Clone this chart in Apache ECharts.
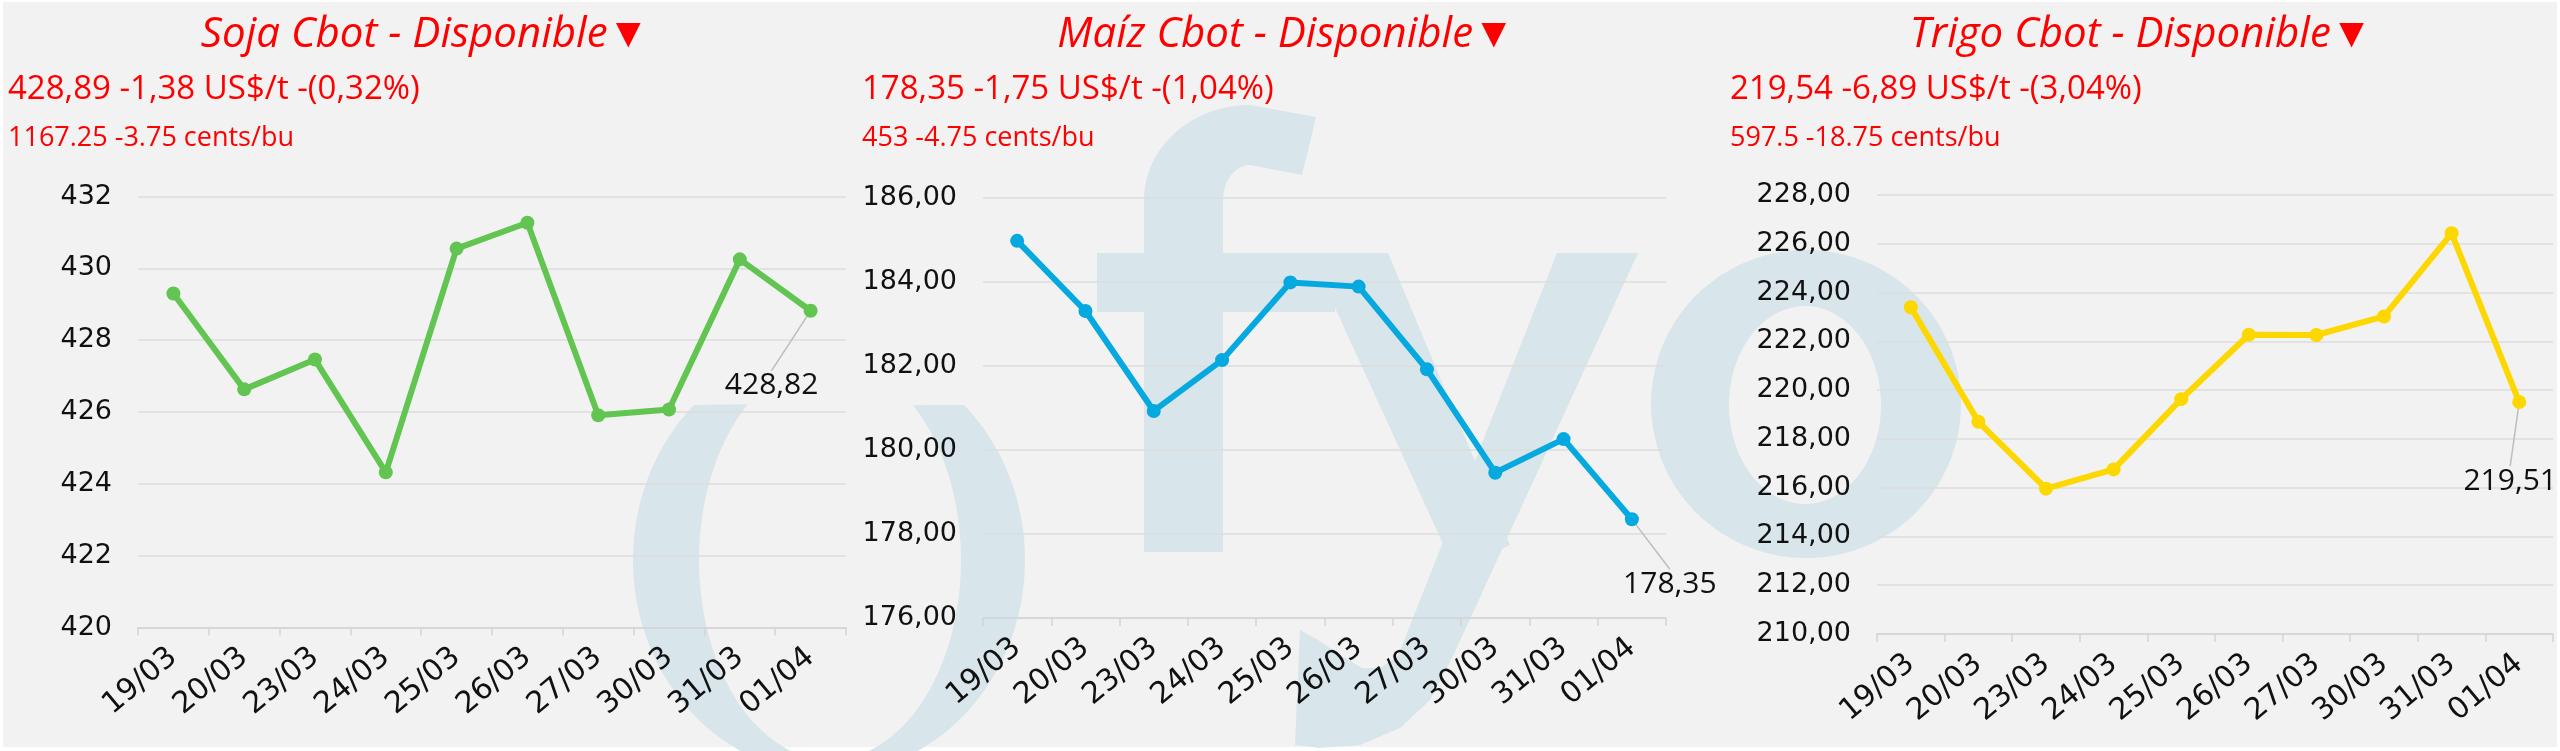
<!DOCTYPE html>
<html>
<head>
<meta charset="utf-8">
<script src="https://cdn.jsdelivr.net/npm/echarts@6/dist/echarts.min.js"></script>
<style>
html,body{margin:0;padding:0;background:#ffffff;}
#c{width:2560px;height:751px;}
</style>
</head>
<body>
<div id="c"></div>
<script>
// ---- data ----
const categories = ['19/03','20/03','23/03','24/03','25/03','26/03','27/03','30/03','31/03','01/04'];
const sojaValues  = [429.30, 426.63, 427.46, 424.32, 430.55, 431.27, 425.91, 426.07, 430.25, 428.82];
const maizValues  = [184.98, 183.31, 180.93, 182.14, 183.99, 183.89, 181.92, 179.46, 180.26, 178.35];
const trigoValues = [223.40, 218.70, 215.96, 216.75, 219.63, 222.27, 222.26, 223.02, 226.43, 219.51];

const titles     = ['Soja Cbot - Disponible\u25BC', 'Ma\u00EDz Cbot - Disponible\u25BC', 'Trigo Cbot - Disponible\u25BC'];
const priceLines = ['428,89 -1,38 US$/t -(0,32%)', '178,35 -1,75 US$/t -(1,04%)', '219,54 -6,89 US$/t -(3,04%)'];
const centsLines = ['1167.25 -3.75 cents/bu', '453 -4.75 cents/bu', '597.5 -18.75 cents/bu'];

const yMins = [420, 176, 210];
const yMaxs = [432, 186, 228];
const yStep = 2;
const yDecimals = [0, 2, 2];

// ---- styles / layout ----
const seriesValues = [sojaValues, maizValues, trigoValues];
const colors = ['#62c451', '#05a9e0', '#fdd700'];
const grids = [
  {left: 138, top: 196.5, width: 708, height: 431},
  {left: 983, top: 198, width: 683, height: 420},
  {left: 1877, top: 195, width: 676, height: 439}
];
const titleX = [425, 1286, 2141];
const textLeft = [8, 862, 1730];
const labelShift = [[-39, 75], [38, 65], [-9, 79]];
const wm = '#d8e5ea';

function fmt(v, d) { return v.toFixed(d).replace('.', ','); }

function arcPts(cx, cy, rx, ry, a0, a1, n) {
  const pts = [];
  for (let i = 0; i <= n; i++) {
    const a = (a0 + (a1 - a0) * i / n) * Math.PI / 180;
    pts.push([cx + rx * Math.cos(a), cy + ry * Math.sin(a)]);
  }
  return pts;
}

// watermark shapes (decorative)
const uRing = arcPts(829, 560, 196, 214, 226.4, -46.4, 80).concat(arcPts(830, 560, 131, 200, -50.7, 231.1, 80));
const oRing = arcPts(1806, 404, 155, 154, 0, 360, 90).concat(arcPts(1805, 405, 76, 99, 360, 0, 90));
const fShape = [[1144, 552]].concat(arcPts(1250, 200, 106, 95, 180, 270, 30))
  .concat([[1316, 117], [1302, 175]])
  .concat(arcPts(1250, 200, 27, 35, 270, 180, 20))
  .concat([[1223, 552]]);
const yLeft = [[1310, 253], [1388, 253], [1510, 545], [1455, 570]];
const yRight = [[1557, 253], [1638, 253], [1453, 656], [1430, 700], [1400, 728], [1360, 745], [1320, 748], [1295, 745],
  [1300, 630], [1318, 640], [1340, 655], [1362, 668], [1380, 668], [1398, 656]];

const graphic = [
  {type: 'rect', shape: {x: 3, y: 2, width: 2554, height: 745}, style: {fill: '#f2f2f2'}, z: -30, silent: true},
  {type: 'polygon', shape: {points: uRing}, style: {fill: wm}, z: -20, silent: true},
  {type: 'polygon', shape: {points: oRing}, style: {fill: wm}, z: -20, silent: true},
  {type: 'polygon', shape: {points: fShape}, style: {fill: wm}, z: -20, silent: true},
  {type: 'rect', shape: {x: 1097, y: 253, width: 238, height: 59}, style: {fill: wm}, z: -20, silent: true},
  {type: 'polygon', shape: {points: yLeft}, style: {fill: wm}, z: -20, silent: true},
  {type: 'polygon', shape: {points: yRight}, style: {fill: wm}, z: -20, silent: true}
];
for (let i = 0; i < 3; i++) {
  graphic.push({type: 'text', x: titleX[i], y: 34.7, z: 10, silent: true,
    style: {text: titles[i], fontFamily: 'Open Sans', fontSize: 42, fontStyle: 'italic', fill: '#ff0000', align: 'center', verticalAlign: 'middle'}});
  graphic.push({type: 'text', x: textLeft[i], y: 89.9, z: 10, silent: true,
    style: {text: priceLines[i], fontFamily: 'Open Sans', fontSize: 33, fill: '#ff0000', align: 'left', verticalAlign: 'middle'}});
  graphic.push({type: 'text', x: textLeft[i], y: 138.5, z: 10, silent: true,
    style: {text: centsLines[i], fontFamily: 'Open Sans', fontSize: 27, fill: '#ff0000', align: 'left', verticalAlign: 'middle'}});
}

const xAxis = [], yAxis = [], series = [];
for (let i = 0; i < 3; i++) {
  xAxis.push({
    type: 'category', gridIndex: i, data: categories, boundaryGap: true,
    axisLine: {show: true, lineStyle: {color: '#d4d4d4', width: 1.5}},
    axisTick: {show: true, length: 8, alignWithLabel: false, lineStyle: {color: '#d4d4d4', width: 1.5}},
    axisLabel: {interval: 0, rotate: 40, margin: 26, fontFamily: 'DejaVu Sans', fontSize: 30, color: '#111111'},
    splitLine: {show: false}
  });
  const d = yDecimals[i];
  yAxis.push({
    type: 'value', gridIndex: i, min: yMins[i], max: yMaxs[i], interval: yStep,
    axisLine: {show: false}, axisTick: {show: false},
    splitLine: {show: true, lineStyle: {color: '#dcdcdc', width: 1.5}},
    axisLabel: {margin: 26, fontFamily: 'DejaVu Sans', fontSize: 27, color: '#111111', formatter: v => fmt(v, d)}
  });
  const vals = seriesValues[i];
  const last = vals.length - 1;
  const shift = labelShift[i];
  series.push({
    type: 'line', xAxisIndex: i, yAxisIndex: i,
    data: vals.map((v, k) => k === last ? {value: v, label: {show: true}} : v),
    symbol: 'circle', symbolSize: 14, showSymbol: true,
    lineStyle: {width: 6, color: colors[i]},
    itemStyle: {color: colors[i]},
    label: {show: false, position: 'inside', fontFamily: 'Open Sans', fontSize: 30, color: '#111111',
      formatter: p => fmt(p.value, 2)},
    labelLine: {show: true, lineStyle: {color: '#bdbdbd', width: 1.5}},
    labelLayout: p => (p.dataIndex === last ? {dx: shift[0], dy: shift[1]} : {}),
    emphasis: {disabled: true},
    z: 5
  });
}

const chart = echarts.init(document.getElementById('c'), null, {renderer: 'canvas'});
chart.setOption({
  animation: false,
  backgroundColor: '#ffffff',
  grid: grids,
  xAxis: xAxis,
  yAxis: yAxis,
  series: series,
  graphic: graphic
});
</script>
</body>
</html>
